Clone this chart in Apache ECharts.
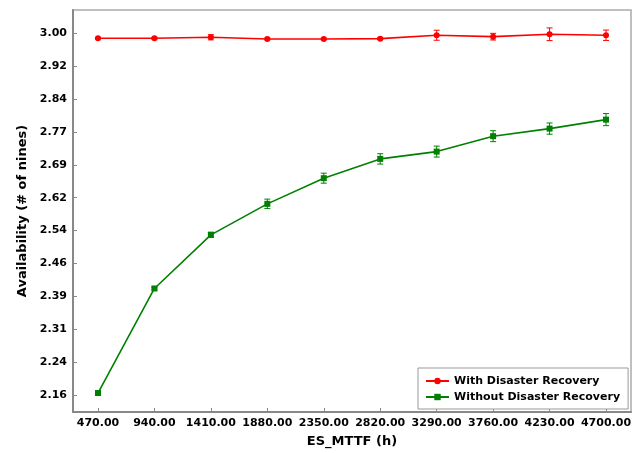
<!DOCTYPE html>
<html>
<head>
<meta charset="utf-8">
<script src="https://cdn.jsdelivr.net/npm/echarts@6/dist/echarts.min.js"></script>
<style>
html,body{margin:0;padding:0;background:#fff;}
#main{width:641px;height:453px;}
</style>
</head>
<body>
<div id="main"></div>
<script>
// x values (ES_MTTF in hours)
var mttf = [470, 940, 1410, 1880, 2350, 2820, 3290, 3760, 4230, 4700];
// availability with disaster recovery
var withDR = [2.9856, 2.9856, 2.9879, 2.9840, 2.9840, 2.9847, 2.9926, 2.9893, 2.9949, 2.9926];
var withDRErr = [0.002, 0.002, 0.006, 0.002, 0.002, 0.002, 0.0116, 0.0077, 0.0147, 0.012];
// availability without disaster recovery
var withoutDR = [2.1636, 2.4058, 2.5301, 2.6019, 2.6614, 2.7061, 2.7230, 2.7587, 2.7763, 2.7971];
var withoutDRErr = [0.002, 0.003, 0.006, 0.011, 0.0116, 0.012, 0.0127, 0.0127, 0.013, 0.014];
// tick positions
var xTicks = [470, 940, 1410, 1880, 2350, 2820, 3290, 3760, 4230, 4700];
var yTicks = [2.159, 2.2352, 2.3114, 2.3876, 2.4638, 2.54, 2.6162, 2.6924, 2.7686, 2.8448, 2.921, 2.9972];

var FONT = 'DejaVu Sans';

function pairs(xs, ys){
	var out = [];
	for(var i=0;i<xs.length;i++){
		out.push([xs[i], ys[i]]);
	}
	return out;
}

function errData(xs, ys, es){
	var out = [];
	for(var i=0;i<xs.length;i++){
		out.push([xs[i], ys[i]-es[i], ys[i]+es[i]]);
	}
	return out;
}

function errRender(color){
	return function(params, api){
		var x = api.value(0);
		var lo = api.coord([x, api.value(1)]);
		var hi = api.coord([x, api.value(2)]);
		var w = 3;
		var st = {stroke: color, lineWidth: 1};
		return {
			type: 'group',
			children: [
				{type:'line', shape:{x1:lo[0], y1:lo[1], x2:hi[0], y2:hi[1]}, style:st},
				{type:'line', shape:{x1:lo[0]-w, y1:lo[1], x2:lo[0]+w, y2:lo[1]}, style:st},
				{type:'line', shape:{x1:hi[0]-w, y1:hi[1], x2:hi[0]+w, y2:hi[1]}, style:st}
			]
		};
	};
}

var myChart = echarts.init(document.getElementById('main'), null, {renderer:'canvas'});

var option = {
	animation: false,
	backgroundColor: '#fff',
	textStyle: {fontFamily: FONT},
	grid: {
		left: 73, top: 10, right: 10, bottom: 41,
		show: true, borderColor: '#aaa', borderWidth: 1.5
	},
	legend: {
		orient: 'vertical',
		left: 418, top: 368,
		padding: [6, 8, 5, 7],
		itemWidth: 23, itemHeight: 8, itemGap: 2,
		backgroundColor: '#fff',
		borderColor: '#999', borderWidth: 1,
		borderRadius: 0,
		data: ['With Disaster Recovery', 'Without Disaster Recovery'],
		textStyle: {fontFamily: FONT, fontWeight: 'bold', fontSize: 11, color: '#000', lineHeight: 14}
	},
	xAxis: {
		type: 'value',
		min: 262, max: 4908,
		name: 'ES_MTTF (h)',
		nameLocation: 'middle',
		nameGap: 23,
		nameTextStyle: {fontFamily: FONT, fontWeight: 'bold', fontSize: 13, color: '#000'},
		axisLine: {show: true, lineStyle: {color: '#888', width: 2}},
		axisTick: {show: true, inside: true, length: 4, customValues: xTicks, lineStyle: {color: '#888'}},
		axisLabel: {
			customValues: xTicks,
			margin: 6,
			fontFamily: FONT, fontWeight: 'bold', fontSize: 11, color: '#000',
			formatter: function(v){ return v.toFixed(2); }
		},
		splitLine: {show: false}
	},
	yAxis: {
		type: 'value',
		min: 2.1196, max: 3.0511,
		name: 'Availability (# of nines)',
		nameLocation: 'middle',
		nameGap: 44,
		nameTextStyle: {fontFamily: FONT, fontWeight: 'bold', fontSize: 13, color: '#000'},
		axisLine: {show: true, lineStyle: {color: '#888', width: 2}},
		axisTick: {show: true, inside: true, length: 4, customValues: yTicks, lineStyle: {color: '#888'}},
		axisLabel: {
			customValues: yTicks,
			margin: 6,
			fontFamily: FONT, fontWeight: 'bold', fontSize: 11, color: '#000',
			formatter: function(v){ return v.toFixed(2); }
		},
		splitLine: {show: false}
	},
	series: [
		{
			name: 'errWith',
			type: 'custom',
			renderItem: errRender('#ff0000'),
			encode: {x: 0, y: [1, 2]},
			data: errData(mttf, withDR, withDRErr),
			z: 3
		},
		{
			name: 'errWithout',
			type: 'custom',
			renderItem: errRender('#008000'),
			encode: {x: 0, y: [1, 2]},
			data: errData(mttf, withoutDR, withoutDRErr),
			z: 3
		},
		{
			name: 'With Disaster Recovery',
			type: 'line',
			data: pairs(mttf, withDR),
			symbol: 'circle',
			symbolSize: 6,
			showAllSymbol: true,
			itemStyle: {color: '#ff0000'},
			lineStyle: {color: '#ff0000', width: 1.6},
			z: 4
		},
		{
			name: 'Without Disaster Recovery',
			type: 'line',
			data: pairs(mttf, withoutDR),
			symbol: 'rect',
			symbolSize: 6,
			showAllSymbol: true,
			itemStyle: {color: '#008000'},
			lineStyle: {color: '#008000', width: 1.6},
			z: 4
		}
	]
};

myChart.setOption(option);
</script>
</body>
</html>
